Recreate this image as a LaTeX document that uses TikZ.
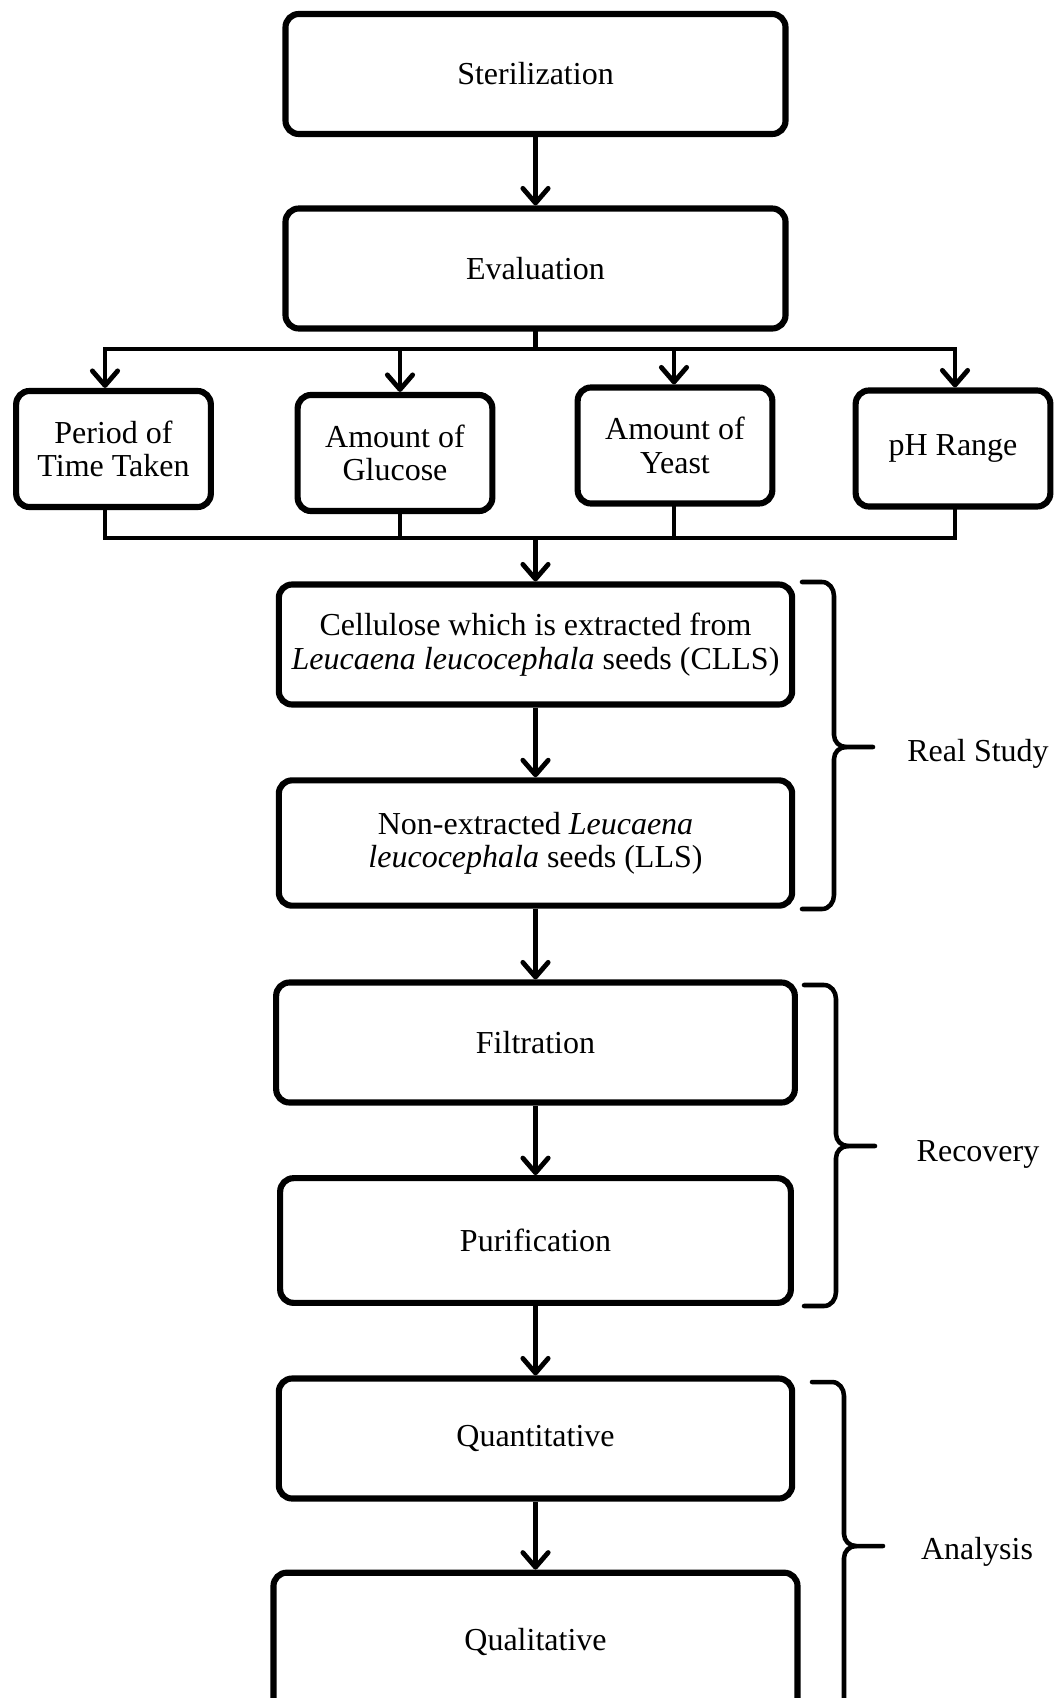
\documentclass[tikz,border=0pt]{standalone}
\usepackage{fontspec}
\setmainfont{Liberation Serif}
\usetikzlibrary{arrows.meta,positioning}

% a bracket that groups the stages: x of the ends, top, middle, bottom
\newcommand{\stagebrace}[4]{%
  \draw[bracket] (#1,#2) -- ({#1+20},#2) to[out=0,in=90] ({#1+32},{#2+14})
    -- ({#1+32},{#3-12}) to[out=-90,in=180] ({#1+44},#3) -- ({#1+71},#3);
  \draw[bracket] ({#1+44},#3) to[out=180,in=90] ({#1+32},{#3+12})
    -- ({#1+32},{#4-14}) to[out=-90,in=0] ({#1+20},#4) -- (#1,#4);
}

\begin{document}
\begin{tikzpicture}[x=0.75pt,y=-0.75pt,
    stage/.style={draw,line width=4.6pt,rounded corners=10pt,align=center,
      font=\fontsize{24}{25}\selectfont},
    bigbox/.style={stage,minimum width=385pt,minimum height=90pt},
    smallbox/.style={stage,minimum width=146pt,minimum height=87pt},
    link/.style={line width=3.6pt,line cap=rect},
    flow/.style={line width=3.6pt,-{Straight Barb[length=11pt,width=19pt,round]}},
    bracket/.style={line width=3.4pt,line cap=round},
    tag/.style={font=\fontsize{24}{25}\selectfont}]
  \clip (0,0) rectangle (1054,1698);

  % main column
  \node[bigbox,minimum width=375pt] (steril) at (535.5,74) {Sterilization};
  \node[bigbox,minimum width=375pt] (eval) at (535.5,268.5) {Evaluation};

  % four parameters
  \node[smallbox] (period) at (113.5,449) {Period of\\Time Taken};
  \node[smallbox] (glucose) at (395,453) {Amount of\\Glucose};
  \node[smallbox] (yeast) at (675,445.5) {Amount of\\Yeast};
  \node[smallbox] (ph) at (953,448.5) {pH Range};

  \node[bigbox] (cells) at (535.5,644.5)
    {Cellulose which is extracted from\\\textit{Leucaena leucocephala} seeds (CLLS)};
  \node[bigbox,minimum height=94pt] (nonext) at (535.5,843)
    {Non-extracted \textit{Leucaena}\\\textit{leucocephala} seeds (LLS)};
  \node[bigbox,minimum width=389pt] (filt) at (535.5,1042.5) {Filtration};
  \node[bigbox,minimum width=383pt,minimum height=93.5pt] (purif) at (535.5,1240.5) {Purification};
  \node[bigbox] (quant) at (535.5,1438.5) {Quantitative};
  \node[bigbox,minimum width=393pt,minimum height=104pt] (qual) at (535.5,1642) {Qualitative};

  % split and join lines
  \coordinate (drop1) at (105,349);
  \coordinate (drop2) at (400,349);
  \coordinate (drop3) at (674,349);
  \coordinate (drop4) at (955,349);
  \coordinate (join1) at (105,538);
  \coordinate (join4) at (955,538);

  \draw[flow] (steril) -- (eval);
  \draw[link] (eval.south) -- (eval.south |- drop1);
  \draw[link] (drop1) -- (drop4);
  \foreach \d/\b in {drop1/period,drop2/glucose,drop3/yeast,drop4/ph}
    \draw[flow] (\d) -- (\d |- \b.north);
  \draw[link] (join1) -- (join4);
  \foreach \d/\b in {drop1/period,drop2/glucose,drop3/yeast,drop4/ph}
    \draw[link] (\d |- \b.south) -- (\d |- join1);
  \draw[flow] (cells.north |- join1) -- (cells);
  \draw[flow] (cells) -- (nonext);
  \draw[flow] (nonext) -- (filt);
  \draw[flow] (filt) -- (purif);
  \draw[flow] (purif) -- (quant);
  \draw[flow] (quant) -- (qual);

  % groups
  \stagebrace{802}{582}{747}{909}
  \stagebrace{804}{985}{1146}{1306}
  \stagebrace{812}{1382}{1546}{1740}
  \node[tag] (real) at (978,754) {Real Study};
  \node[tag] (recov) at (978,1154) {Recovery};
  \node[tag] (anal) at (977,1552) {Analysis};
\end{tikzpicture}
\end{document}
